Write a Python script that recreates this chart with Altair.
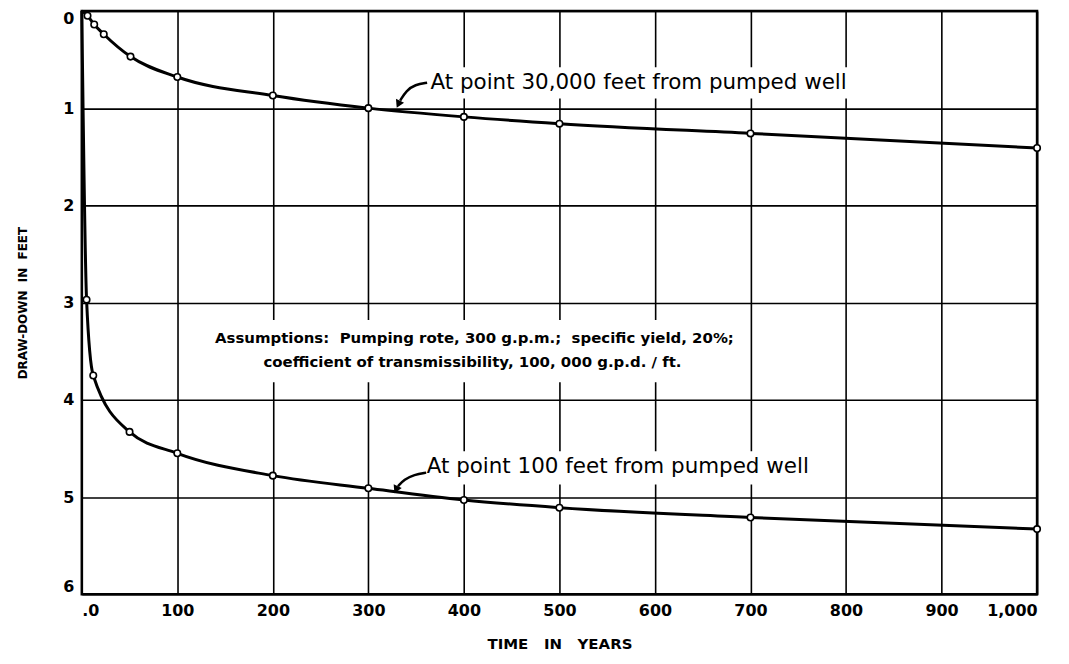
import altair as alt
import pandas as pd

# Curve 1: at point 30,000 feet from pumped well
t30 = [0, 6, 13, 23, 51, 100, 200, 300, 400, 500, 700, 1000]
d30 = [0, 0.05, 0.14, 0.24, 0.47, 0.68, 0.87, 1.0, 1.09, 1.16, 1.26, 1.41]
m30 = [False, True, True, True, True, True, True, True, True, True, True, True]

# Curve 2: at point 100 feet from pumped well
t100 = [0, 5, 12, 50, 100, 200, 300, 400, 500, 700, 1000]
d100 = [0, 2.97, 3.75, 4.33, 4.55, 4.78, 4.91, 5.03, 5.11, 5.21, 5.33]
m100 = [False, True, True, True, True, True, True, True, True, True, True]

x_ticks = [0, 100, 200, 300, 400, 500, 600, 700, 800, 900, 1000]
y_ticks = [0, 1, 2, 3, 4, 5, 6]

label30 = "At point 30,000 feet from pumped well"
label100 = "At point 100 feet from pumped well"
assump1 = "Assumptions:\u00a0 Pumping rote, 300 g.p.m.;\u00a0 specific yield, 20%;"
assump2 = "coefficient of transmissibility, 100, 000 g.p.d. / ft."
x_title = "TIME\u00a0\u00a0 IN\u00a0\u00a0 YEARS"
y_title = "DRAW-DOWN\u00a0 IN\u00a0 FEET"

curves = pd.concat([
    pd.DataFrame({"t": t30, "d": d30, "m": m30, "s": "30000"}),
    pd.DataFrame({"t": t100, "d": d100, "m": m100, "s": "100"}),
])

FONT = "DejaVu Sans"

xs = alt.Scale(domain=[0, 1000], nice=False, zero=False)
ys = alt.Scale(domain=[0, 6], nice=False, reverse=True, zero=False)

xaxis = alt.Axis(values=x_ticks, grid=True, ticks=False, domain=False,
                 gridColor="black", gridWidth=1.6, gridOpacity=1,
                 labelExpr="datum.value == 0 ? '.0' : datum.value == 1000 ? '1,000' : datum.label",
                 labelFont=FONT, labelFontSize=16, labelFontWeight="bold", labelColor="black",
                 labelPadding=8, title=x_title, titleFont=FONT, titleFontSize=15,
                 titleFontWeight="bold", titleColor="black", titlePadding=18)
yaxis = alt.Axis(values=y_ticks, grid=True, ticks=False, domain=False, labelFlush=True,
                 gridColor="black", gridWidth=1.6, gridOpacity=1, format="d",
                 labelFont=FONT, labelFontSize=16, labelFontWeight="bold", labelColor="black",
                 labelPadding=8, title=y_title, titleFont=FONT, titleFontSize=12,
                 titleFontWeight="bold", titleColor="black", titlePadding=33)

base = alt.Chart(curves)

lines = base.mark_line(color="black", strokeWidth=3, interpolate="monotone").encode(
    x=alt.X("t:Q", scale=xs, axis=xaxis),
    y=alt.Y("d:Q", scale=ys, axis=yaxis),
    detail="s:N",
)
points = base.transform_filter("datum.m").mark_point(
    shape="circle", filled=True, fill="white", stroke="black", strokeWidth=1.6, size=42, opacity=1
).encode(x="t:Q", y="d:Q")

# white boxes behind the labels (grid lines are interrupted there)
boxes = pd.DataFrame({
    "x1": [361, 150, 357], "x2": [815, 672, 755],
    "y1": [0.58, 3.18, 4.53], "y2": [0.9, 3.82, 4.87],
})
rects = alt.Chart(boxes).mark_rect(color="white").encode(
    x="x1:Q", x2="x2:Q", y="y1:Q", y2="y2:Q")

texts = pd.DataFrame({
    "x": [365, 361, 411, 409],
    "y": [0.74, 4.69, 3.36, 3.61],
    "txt": [label30, label100, assump1, assump2],
})
t_left = alt.Chart(texts.iloc[:2]).mark_text(
    align="left", baseline="middle", font=FONT, fontSize=21.5, color="black"
).encode(x="x:Q", y="y:Q", text="txt:N")
t_center = alt.Chart(texts.iloc[2:]).mark_text(
    align="center", baseline="middle", font=FONT, fontSize=15, fontWeight="bold", color="black"
).encode(x="x:Q", y="y:Q", text="txt:N")

arrows = pd.DataFrame({
    "x": [361.5, 349, 339.6, 333.3, 360.5, 348, 337.5, 331],
    "y": [0.738, 0.758, 0.82, 0.922, 4.749, 4.77, 4.82, 4.89],
    "o": [0, 1, 2, 3, 0, 1, 2, 3],
    "a": ["top", "top", "top", "top", "bot", "bot", "bot", "bot"],
})
arrow_lines = alt.Chart(arrows).mark_line(color="black", strokeWidth=2.5, interpolate="basis").encode(
    x="x:Q", y="y:Q", order="o:Q", detail="a:N")
heads = pd.DataFrame({"x": [331.4, 329], "y": [0.96, 4.925]})
arrow_heads = alt.Chart(heads).mark_point(
    shape="triangle-up", filled=True, color="black", size=80, angle=205, opacity=1
).encode(x="x:Q", y="y:Q")

chart = alt.layer(rects, lines, points, t_left, t_center, arrow_lines, arrow_heads).properties(
    width=958, height=585,
    background="white",
    autosize=alt.AutoSizeParams(type="none"),
    padding={"left": 74, "top": 2, "right": 24, "bottom": 58},
).configure_view(stroke="black", strokeWidth=2.5)

chart.save("out.html", embed_options={"renderer": "svg", "actions": False})
